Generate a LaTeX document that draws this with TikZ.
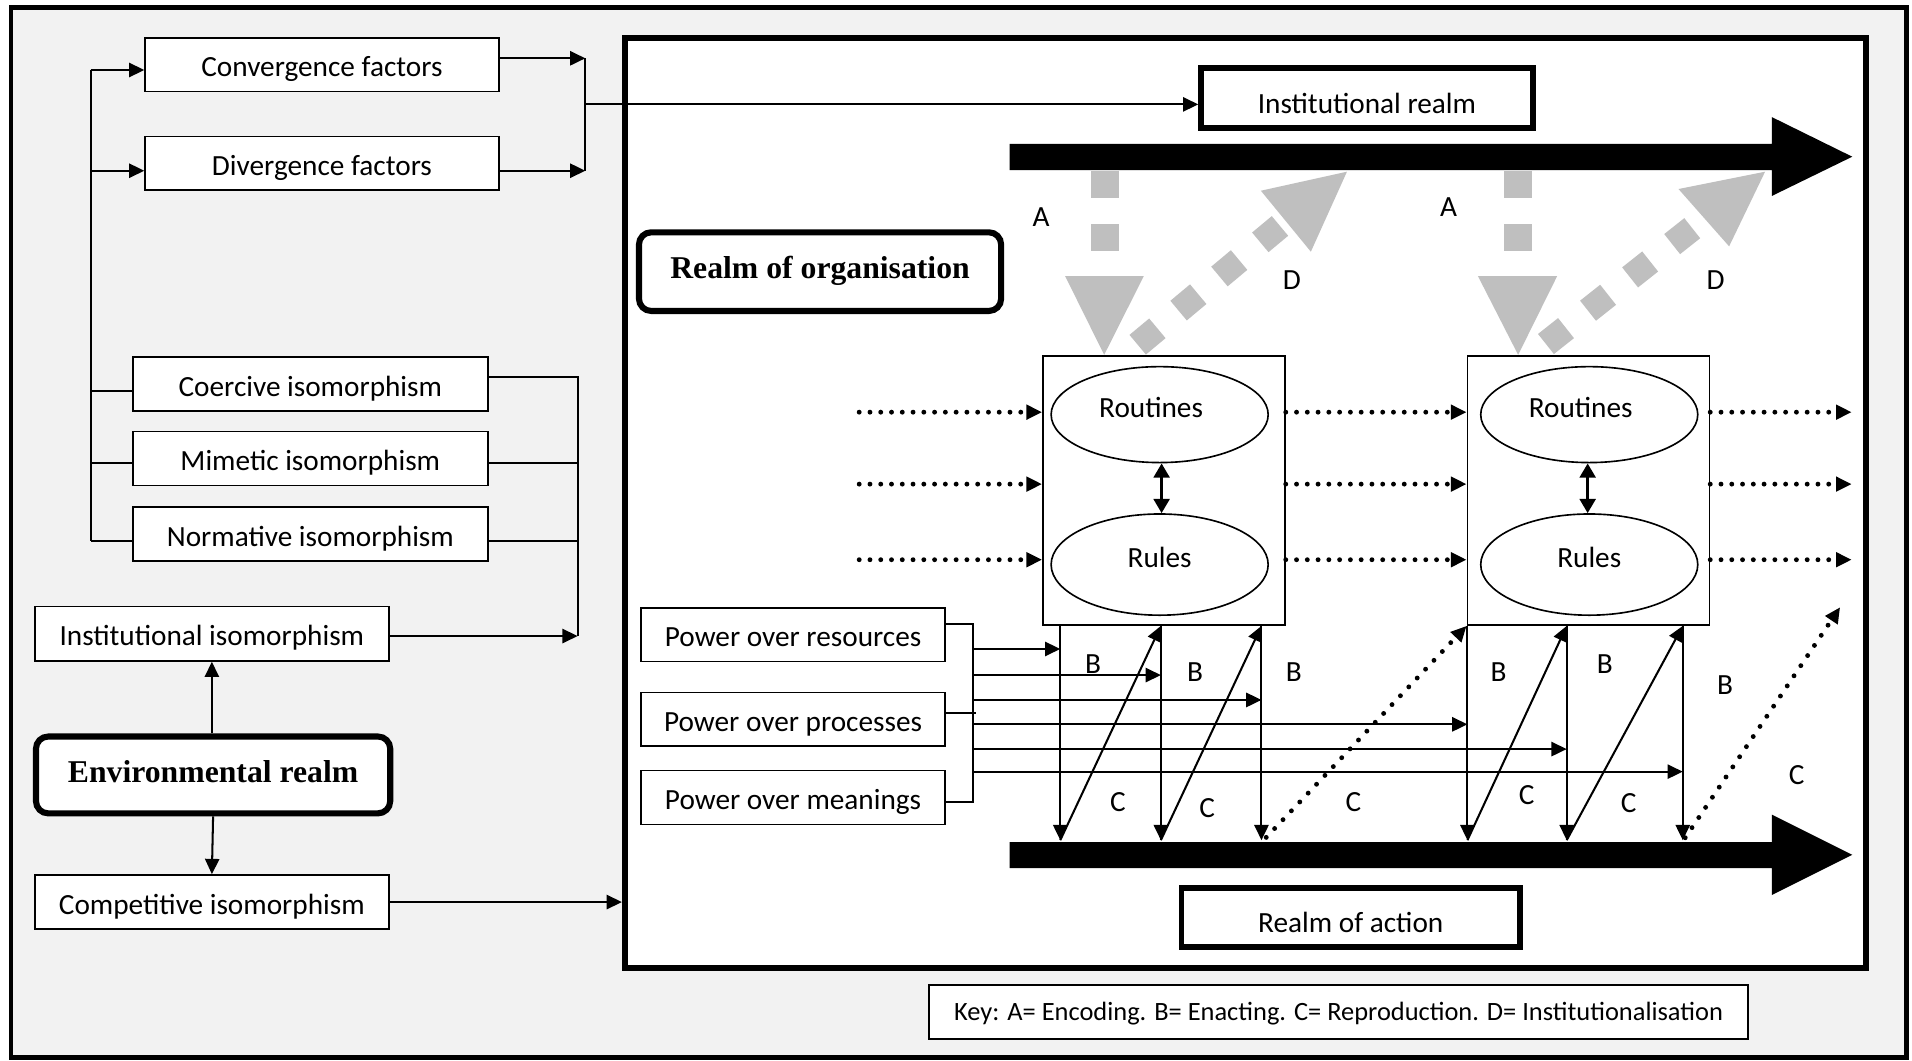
\documentclass[tikz,border=0pt]{standalone}
\usepackage{fontspec}
\setmainfont{Carlito}
\newfontfamily\tnr{Liberation Serif}
\usetikzlibrary{arrows.meta,calc,shapes.geometric}
\definecolor{bggray}{HTML}{F2F2F2}
\definecolor{agray}{HTML}{BFBFBF}
\begin{document}
\begin{tikzpicture}[x=0.6pt,y=-0.6pt,
  font=\fontsize{14.4}{16}\selectfont,
  box/.style={draw, line width=0.8pt, fill=white, inner sep=0pt, text height=12pt, text depth=0pt},
  thickbox/.style={draw, line width=2.8pt, fill=white, inner sep=0pt, text height=15pt, text depth=0pt},
  realm/.style={draw, line width=3pt, rounded corners=6pt, fill=white, inner sep=0pt,
    text height=7.2pt, text depth=0pt, font=\tnr\bfseries\fontsize{15.6}{18}\selectfont},
  ell/.style={draw, ellipse, line width=0.8pt, inner sep=0pt, fill=white, text height=2.4pt, text depth=0pt},
  lbl/.style={inner sep=0pt},
  conn/.style={line width=1pt},
  arr/.style={conn, -{Triangle[length=7.5pt,width=7pt]}},
  dblarr/.style={line width=1.6pt, {Triangle[length=7pt,width=7.7pt]}-{Triangle[length=7pt,width=7.7pt]}},
  dotarr/.style={line width=2.4pt, line cap=round, dash pattern=on 0pt off 5.3pt,
    -{Triangle[length=7.7pt,width=7pt]}},
  grayd/.style={agray, line width=12.6pt}
]
\useasboundingbox (0,0) rectangle (1568,870);
\fill[white] (0,0) rectangle (1568,870);
\draw[line width=2.4pt, fill=bggray] (9,6.5) rectangle (1563.5,867);
\node[draw, line width=3pt, fill=white, minimum width=610.8pt, minimum height=457.5pt, inner sep=0pt] (orgbox) at (1021.5,412.75) {};

% left column
\node[box, minimum width=174pt, minimum height=26.4pt] (conv) at (264,53) {Convergence factors};
\node[box, minimum width=174pt, minimum height=26.4pt] (div) at (264,134) {Divergence factors};
\node[box, minimum width=174.6pt, minimum height=26.4pt] (coer) at (254.5,315) {Coercive isomorphism};
\node[box, minimum width=174.6pt, minimum height=26.4pt] (mim) at (254.5,376) {Mimetic isomorphism};
\node[box, minimum width=174.6pt, minimum height=26.4pt] (norm) at (254.5,438) {Normative isomorphism};
\node[box, minimum width=174.3pt, minimum height=26.7pt] (instiso) at (173.75,519.75) {Institutional isomorphism};
\node[realm, minimum width=174.3pt, minimum height=37.8pt] (env) at (174.75,635.5) {Environmental realm};
\node[box, minimum width=174.3pt, minimum height=26.7pt] (comp) at (173.75,739.75) {Competitive isomorphism};

% organisation realm
\node[thickbox, minimum width=163.2pt, minimum height=29.4pt] (instrealm) at (1121,80.5) {Institutional realm};
\node[realm, minimum width=178.2pt, minimum height=38.7pt] (orgrealm) at (672.5,222.75) {Realm of organisation};
\node[thickbox, minimum width=166.5pt, minimum height=29.1pt] (action) at (1107.75,752.25) {Realm of action};
\node[box, minimum width=402.9pt, minimum height=26.4pt, text height=8.4pt, font=\fontsize{13}{15}\selectfont] (key) at (1097.75,830)
  {Key: A= Encoding. B= Enacting. C= Reproduction. D= Institutionalisation};

\node[box, minimum width=119.1pt, minimum height=132.4pt] (box1) at (954.5,402.3) {};
\node[box, minimum width=119.1pt, minimum height=132.4pt] (box2) at (1302.6,402.3) {};
\node[ell, minimum width=106.8pt, minimum height=47.2pt] (rout1) at (951,340) {\hspace*{-8.4pt}Routines};
\node[ell, minimum width=106.8pt, minimum height=49.8pt] (rule1) at (951,463) {Rules};
\node[ell, minimum width=106.8pt, minimum height=47.2pt] (rout2) at (1303.3,340) {\hspace*{-8.4pt}Routines};
\node[ell, minimum width=106.8pt, minimum height=49.8pt] (rule2) at (1303.3,463) {Rules};

\node[box, minimum width=149.6pt, minimum height=26.4pt] (powres) at (650.35,520.5) {Power over resources};
\node[box, minimum width=149.6pt, minimum height=26.4pt] (powproc) at (650.35,590) {Power over processes};
\node[box, minimum width=149.6pt, minimum height=26.4pt] (powmean) at (650.35,654) {Power over meanings};

% big timeline arrows
\fill (828,118) -- (1453,118) -- (1453,96) -- (1519,128.5) -- (1453,160.7) -- (1453,139.5) -- (828,139.5) -- cycle;
\fill (828,690.5) -- (1453,690.5) -- (1453,668) -- (1519,701) -- (1453,734) -- (1453,712) -- (828,712) -- cycle;

% gray A arrows
\draw[agray, line width=13.8pt, dash pattern=on 13.2pt off 13.2pt] (906,140) -- (906,206);
\fill[agray] (873.5,226.4) -- (938,226.4) -- (905.5,291) -- cycle;
\draw[agray, line width=13.8pt, dash pattern=on 13.2pt off 13.2pt] (1245,140) -- (1245,206);
\fill[agray] (1212,226.4) -- (1277,226.4) -- (1245,291) -- cycle;
% gray D arrows
\draw[grayd, dash pattern=on 12.6pt off 13.6pt] (933,282.7) -- (1050,185);
\fill[agray] (1034,156.4) -- (1104.6,140.8) -- (1075,206.4) -- cycle;
\draw[grayd, dash pattern=on 12.6pt off 13.8pt] (1267.8,282.1) -- (1387.8,187.1);
\fill[agray] (1376.5,155) -- (1447.5,140.8) -- (1418,202) -- cycle;

\node[lbl] (la1) at (853.7,178) {A};
\node[lbl] (la2) at (1188,169.5) {A};
\node[lbl] (ld1) at (1059.5,229.6) {D};
\node[lbl] (ld2) at (1407,229.6) {D};

% left connectors
\coordinate (lv1) at (74.3,57.4);
\coordinate (lv2) at (74.3,140);
\coordinate (lv3) at (74.3,320.5);
\coordinate (lv4) at (74.3,379.5);
\coordinate (lv5) at (74.3,443.5);
\draw[conn] (lv1) -- (lv5);
\draw[arr] (lv1) -- (lv1 -| conv.west);
\draw[arr] (lv2) -- (lv2 -| div.west);
\draw[conn] (lv3) -- (lv3 -| coer.west);
\draw[conn] (lv4) -- (lv4 -| mim.west);
\draw[conn] (lv5) -- (lv5 -| norm.west);

\coordinate (j1) at (480,47.8);
\coordinate (j2) at (480,140);
\coordinate (j3) at (480,85.6);
\draw[arr] (conv.east |- j1) -- (j1);
\draw[arr] (div.east |- j2) -- (j2);
\draw[conn] (j1) -- (j2);
\draw[arr] (j3) -- (j3 -| instrealm.west);

\coordinate (rv1) at (473.7,309);
\coordinate (rv2) at (473.7,379.5);
\coordinate (rv3) at (473.7,443.5);
\coordinate (rv4) at (473.7,521.6);
\draw[conn] (coer.east |- rv1) -- (rv1) -- (rv4);
\draw[conn] (mim.east |- rv2) -- (rv2);
\draw[conn] (norm.east |- rv3) -- (rv3);
\draw[arr] (instiso.east |- rv4) -- (rv4);

\draw[arr] (env.north -| instiso.south) -- (instiso.south);
\draw[arr] (env.south) -- (comp.north);
\draw[arr] (comp.east) -- (comp.east -| orgbox.west);

% dotted flows
\coordinate (d1) at (704.6,338);
\coordinate (d2) at (704.6,397);
\coordinate (d3) at (704.6,459);
\coordinate (e1) at (1518.5,338);
\coordinate (e2) at (1518.5,397);
\coordinate (e3) at (1518.5,459);
\foreach \i in {1,2,3}{
  \draw[dotarr] (d\i) -- (d\i -| box1.west);
  \draw[dotarr] (d\i -| box1.east) -- (d\i -| box2.west);
  \draw[dotarr] (d\i -| box2.east) -- (e\i);
}
\draw[dblarr] (rout1.south -| 952.6,0) -- (rule1.north -| 952.6,0);
\draw[dblarr] (rout2.south -| 1302,0) -- (rule2.north -| 1302,0);

% enacting / reproduction
\coordinate (g1) at (869.5,689);
\coordinate (g2) at (952,689);
\coordinate (g3) at (1034.5,689);
\coordinate (g4) at (1203.4,689);
\coordinate (g5) at (1284.8,689);
\coordinate (g6) at (1380,689);
\foreach \i/\b in {1/box1,2/box1,3/box1,4/box2,5/box2,6/box2}{
  \draw[arr] (\b.south -| g\i) -- (g\i);
}
\draw[arr] (g1) -- (box1.south -| g2);
\draw[arr] (g2) -- (box1.south -| g3);
\draw[arr] (g4) -- (box2.south -| g5);
\draw[arr] (g5) -- (box2.south -| g6);
\coordinate (e6) at (1509,498);
\draw[dotarr, dash pattern=on 0pt off 6pt] (1038.4,686.7) -- (box2.south west);
\draw[dotarr, dash pattern=on 0pt off 6pt] (1382,687) -- (e6);

% power bracket
\coordinate (bk1) at (797.7,511.7);
\coordinate (bk2) at (797.7,657.7);
\coordinate (bkp) at (800,584.5);
\draw[conn] (powres.east |- bk1) -- (bk1) -- (bk2) -- (powmean.east |- bk2);
\draw[conn] (powproc.east |- bkp) -- (bkp);
\coordinate (p1) at (797.7,532.2);
\coordinate (p2) at (797.7,553.6);
\coordinate (p3) at (797.7,574);
\coordinate (p4) at (797.7,594);
\coordinate (p5) at (797.7,614.3);
\coordinate (p6) at (797.7,632.8);
\foreach \i in {1,...,6}{
  \draw[arr] (p\i) -- (p\i -| g\i);
}

\node[lbl] (b1) at (896.5,545) {B};
\node[lbl] (b2) at (980,551) {B};
\node[lbl] (b3) at (1061,551) {B};
\node[lbl] (b4) at (1229,551) {B};
\node[lbl] (b5) at (1316,545) {B};
\node[lbl] (b6) at (1414.6,562) {B};
\node[lbl] (c1) at (916.7,657.4) {C};
\node[lbl] (c2) at (990,663) {C};
\node[lbl] (c3) at (1110,657.4) {C};
\node[lbl] (c4) at (1252,652) {C};
\node[lbl] (c5) at (1335.7,658.8) {C};
\node[lbl] (c6) at (1473.5,635.6) {C};
\end{tikzpicture}
\end{document}
